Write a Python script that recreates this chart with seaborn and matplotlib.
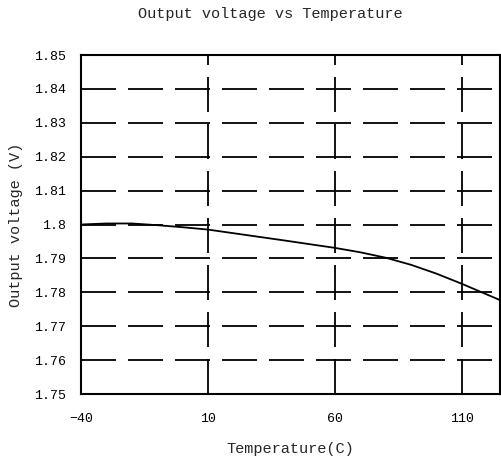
"""Output voltage vs temperature curve"""
import pandas as pd
import matplotlib
matplotlib.use('Agg')
import matplotlib.pyplot as plt
import seaborn as sns

# values
temperature = [-40, -30, -20, -10, 0, 10, 25, 40, 60, 70, 80, 90, 100, 110, 125]
voltage = [1.8000, 1.8003, 1.8003, 1.7998, 1.7992, 1.7985, 1.7969, 1.7953,
           1.7931, 1.7918, 1.7902, 1.7881, 1.7855, 1.7825, 1.7777]
x_ticks = [-40, 10, 60, 110]
y_ticks = [1.75, 1.76, 1.77, 1.78, 1.79, 1.80, 1.81, 1.82, 1.83, 1.84, 1.85]

df = pd.DataFrame({'temp': temperature, 'volt': voltage})

sns.set_theme(style="white")
plt.rcParams['font.family'] = ['Liberation Mono', 'DejaVu Sans Mono']

W, H = 501, 463
fig = plt.figure(figsize=(W / 100, H / 100), dpi=100)
ax = fig.add_axes([81 / W, 1 - 394 / H, 419 / W, (394 - 55) / H])

# dashed grid
lw = 1.3
dash = (35 * 0.72 / lw, 12 * 0.72 / lw)
for y in y_ticks[1:-1]:
    ax.axhline(y, color='black', lw=lw, dashes=dash, zorder=1)
for x in x_ticks[1:]:
    ax.axvline(x, color='black', lw=lw, dashes=dash, zorder=1)

sns.lineplot(data=df, x='temp', y='volt', ax=ax, color='black', lw=1.3, zorder=3)

ax.set_xlim(-40, 125)
ax.set_ylim(1.75, 1.85)
ax.set_xticks(x_ticks)
ax.set_yticks(y_ticks)
ax.set_yticklabels([f'{v:g}' for v in y_ticks])
ax.tick_params(axis='both', length=0, labelsize=9.5, colors='black')
ax.tick_params(axis='x', pad=14)
ax.tick_params(axis='y', pad=11)
for s in ax.spines.values():
    s.set_color('black')
    s.set_linewidth(1.5)

ax.set_xlabel('Temperature(C)', fontsize=11, labelpad=12)
ax.set_ylabel('Output voltage (V)', fontsize=11, labelpad=8)
fig.text(270 / W, 1 - 14 / H, 'Output voltage vs Temperature',
         ha='center', va='center', fontsize=11)

fig.savefig('out.png', dpi=100)
